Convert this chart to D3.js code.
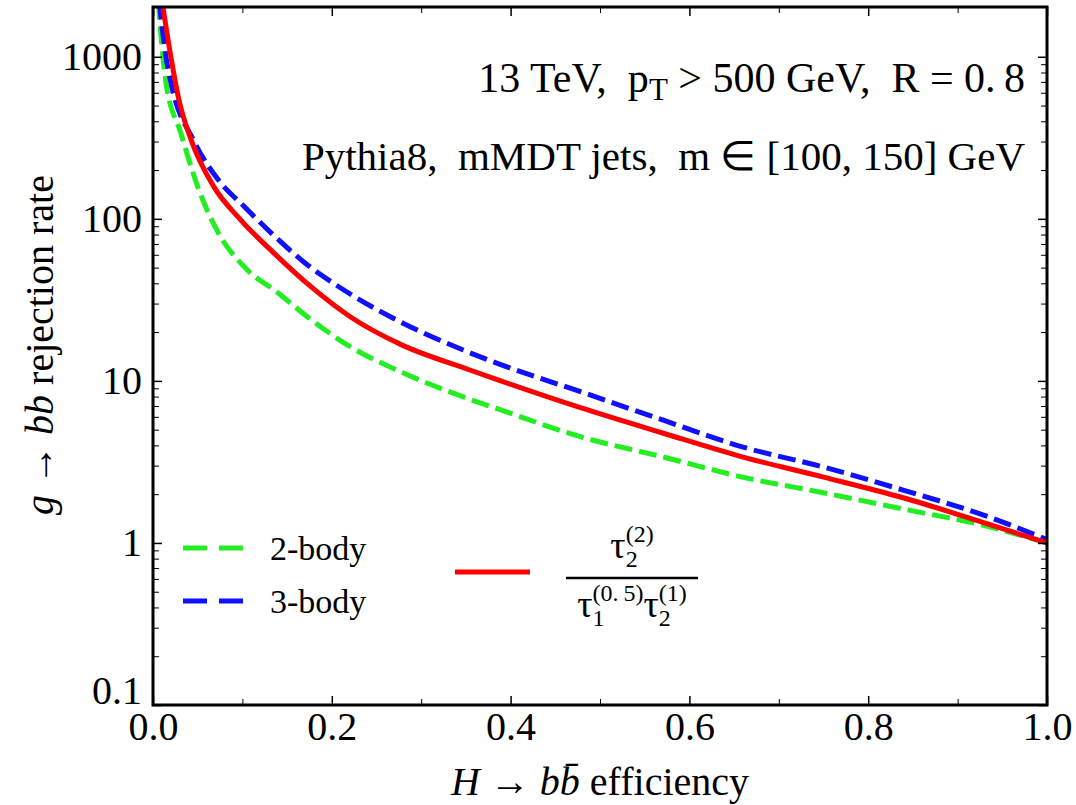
<!DOCTYPE html>
<html>
<head>
<meta charset="utf-8">
<script src="https://cdn.jsdelivr.net/npm/d3@7"></script>
<style>
  svg text { font-family: "Liberation Serif", "Times New Roman", serif !important; }
</style>
</head>
<body style="margin:0;background:#fff">
<svg id="chart" width="1076" height="805"></svg>
<script>
// values (efficiency, rejection)
const effTwoBody = [0.006, 0.011, 0.0145, 0.031, 0.050, 0.073, 0.102, 0.140, 0.177, 0.221, 0.280, 0.347, 0.389, 0.479, 0.570, 0.659, 0.750, 0.839, 0.930, 1.0];
const rejTwoBody = [2200, 1000, 692, 340, 158, 82, 50.6, 34.9, 23.8, 16.2, 11.2, 7.96, 6.62, 4.51, 3.40, 2.55, 2.04, 1.62, 1.28, 1.0];

const effThreeBody = [0.007, 0.0145, 0.020, 0.045, 0.073, 0.102, 0.132, 0.169, 0.213, 0.266, 0.347, 0.389, 0.479, 0.570, 0.659, 0.750, 0.839, 0.930, 1.0];
const rejThreeBody = [2200, 1000, 692, 308, 174, 119, 82, 54, 36.5, 24.8, 15.5, 12.6, 8.55, 5.74, 3.92, 2.94, 2.12, 1.48, 1.05];

const effRatio = [0.011, 0.020, 0.029, 0.0425, 0.068, 0.098, 0.135, 0.177, 0.221, 0.277, 0.352, 0.389, 0.479, 0.570, 0.659, 0.750, 0.839, 0.930, 1.0];
const rejRatio = [2050, 1000, 543, 308, 158, 98.6, 61.7, 38, 24.8, 16.8, 11.8, 10.0, 6.81, 4.77, 3.40, 2.55, 1.90, 1.33, 1.0];

const xTicks = [0, 0.2, 0.4, 0.6, 0.8, 1.0];
const xMinorTicks = [0.1, 0.3, 0.5, 0.7, 0.9];
const yTicks = [0.1, 1, 10, 100, 1000];

const FONT = '"Liberation Serif", "Times New Roman", serif';
const svg = d3.select("#chart").attr("font-family", FONT);
const plotLeft = 153, plotRight = 1047, plotTop = 7, plotBottom = 705;

const x = d3.scaleLinear().domain([0, 1]).range([plotLeft, plotRight]);
const y = d3.scaleLog().domain([0.1, 2000]).range([plotBottom, plotTop + 1]);

// minor log ticks 2..9 per decade
const yMinorTicks = [];
yTicks.forEach(d => { for (let k = 2; k <= 9; k++) { if (d * k < 2000) yMinorTicks.push(d * k); } });

svg.append("clipPath").attr("id", "plotclip")
  .append("rect").attr("x", plotLeft).attr("y", plotTop)
  .attr("width", plotRight - plotLeft).attr("height", plotBottom - plotTop);

// curves
const line = d3.line()
  .x(d => x(d[0]))
  .y(d => y(d[1]))
  .curve(d3.curveMonotoneX);

const series = [
  { eff: effTwoBody, rej: rejTwoBody, color: "#22ee22", dash: "18,7" },
  { eff: effThreeBody, rej: rejThreeBody, color: "#1010ff", dash: "18,7" },
  { eff: effRatio, rej: rejRatio, color: "#ff0000", dash: null }
];

const plot = svg.append("g").attr("clip-path", "url(#plotclip)");
series.forEach(s => {
  plot.append("path")
    .datum(s.eff.map((e, i) => [e, s.rej[i]]))
    .attr("fill", "none")
    .attr("stroke", s.color)
    .attr("stroke-width", 5)
    .attr("stroke-dasharray", s.dash)
    .attr("d", line);
});

// axes, ticks pointing inward
function styleAxis(g, width) {
  g.attr("font-family", FONT).attr("font-size", 40);
  g.select(".domain").remove();
  g.selectAll(".tick line").attr("stroke", "#000").attr("stroke-width", width);
}

svg.append("g").attr("transform", `translate(0,${plotBottom})`)
  .call(d3.axisBottom(x).tickValues(xTicks).tickSize(-9).tickPadding(7).tickFormat(d3.format(".1f")))
  .call(g => styleAxis(g, 1.5));
svg.append("g").attr("transform", `translate(0,${plotBottom})`)
  .call(d3.axisBottom(x).tickValues(xMinorTicks).tickSize(-6).tickFormat(""))
  .call(g => styleAxis(g, 1));
svg.append("g").attr("transform", `translate(0,${plotTop})`)
  .call(d3.axisTop(x).tickValues(xTicks).tickSize(-9).tickFormat(""))
  .call(g => styleAxis(g, 1.5));
svg.append("g").attr("transform", `translate(0,${plotTop})`)
  .call(d3.axisTop(x).tickValues(xMinorTicks).tickSize(-6).tickFormat(""))
  .call(g => styleAxis(g, 1));

svg.append("g").attr("transform", `translate(${plotLeft},0)`)
  .call(d3.axisLeft(y).tickValues(yTicks).tickSize(-9).tickPadding(11)
    .tickFormat(d => d < 1 ? "0.1" : d3.format("d")(d)))
  .call(g => styleAxis(g, 1.5))
  .call(g => g.selectAll(".tick text").filter(d => d < 1).attr("dy", "-0.05em"));
svg.append("g").attr("transform", `translate(${plotLeft},0)`)
  .call(d3.axisLeft(y).tickValues(yMinorTicks).tickSize(-6).tickFormat(""))
  .call(g => styleAxis(g, 1));
svg.append("g").attr("transform", `translate(${plotRight},0)`)
  .call(d3.axisRight(y).tickValues(yTicks).tickSize(-9).tickFormat(""))
  .call(g => styleAxis(g, 1.5));
svg.append("g").attr("transform", `translate(${plotRight},0)`)
  .call(d3.axisRight(y).tickValues(yMinorTicks).tickSize(-6).tickFormat(""))
  .call(g => styleAxis(g, 1));

// frame
svg.append("rect")
  .attr("x", plotLeft).attr("y", plotTop)
  .attr("width", plotRight - plotLeft).attr("height", plotBottom - plotTop)
  .attr("fill", "none").attr("stroke", "#000").attr("stroke-width", 3);

// axis titles
const xt = svg.append("text")
  .attr("x", 600).attr("y", 795)
  .attr("text-anchor", "middle")
  .attr("font-size", 40);
xt.append("tspan").attr("font-style", "italic").text("H");
xt.append("tspan").text(" \u2192 ");
xt.append("tspan").attr("font-style", "italic").text("bb\u0304");
xt.append("tspan").text(" efficiency");

const yt = svg.append("text")
  .attr("transform", "translate(53,345) rotate(-90)")
  .attr("text-anchor", "middle")
  .attr("font-size", 40);
yt.append("tspan").attr("font-style", "italic").text("g");
yt.append("tspan").text(" \u2192 ");
yt.append("tspan").attr("font-style", "italic").text("bb");
yt.append("tspan").text(" rejection rate");

// annotation text
const t1 = svg.append("text")
  .attr("x", 1025).attr("y", 92)
  .attr("text-anchor", "end")
  .attr("font-size", 42)
  .style("white-space", "pre");
t1.append("tspan").text("13 TeV,  p");
t1.append("tspan").attr("dy", 8).attr("font-size", 31).text("T");
t1.append("tspan").attr("dy", -8).text(" > 500 GeV,  R = 0.\u20098");

svg.append("text")
  .attr("x", 1025).attr("y", 170)
  .attr("text-anchor", "end")
  .attr("font-size", 41)
  .style("white-space", "pre")
  .text("Pythia8,  mMDT jets,  m \u2208 [100, 150] GeV");

// legend
const legend = svg.append("g");
[
  { s: series[0], ly: 548, label: "2-body" },
  { s: series[1], ly: 601, label: "3-body" }
].forEach(d => {
  legend.append("line")
    .attr("x1", 183).attr("x2", 243).attr("y1", d.ly).attr("y2", d.ly)
    .attr("stroke", d.s.color).attr("stroke-width", 5)
    .attr("stroke-dasharray", "24,12");
  legend.append("text")
    .attr("x", 270).attr("y", d.ly + 12)
    .attr("font-size", 34)
    .text(d.label);
});
legend.append("line")
  .attr("x1", 455).attr("x2", 530).attr("y1", 572).attr("y2", 572)
  .attr("stroke", series[2].color).attr("stroke-width", 5);

// fraction tau2^(2) / (tau1^(0.5) tau2^(1)), sub and sup stacked with dx
function tau(t, sub, sup, first) {
  t.append("tspan").attr("font-size", 38).attr("dy", first ? 0 : 16).text("\u03c4");
  t.append("tspan").attr("font-size", 24).attr("dy", 9).text(sub);
  t.append("tspan").attr("font-size", 24).attr("dx", -12).attr("dy", -25).text(sup);
}
const fx = 632;
const num = svg.append("text").attr("x", fx).attr("y", 558).attr("text-anchor", "middle").style("white-space", "pre");
tau(num, "2", "(2)", true);
const den = svg.append("text").attr("x", fx).attr("y", 617).attr("text-anchor", "middle").style("white-space", "pre");
tau(den, "1", "(0.\u20095)", true);
tau(den, "2", "(1)", false);
svg.append("line")
  .attr("x1", fx - 66).attr("x2", fx + 66)
  .attr("y1", 578).attr("y2", 578)
  .attr("stroke", "#000").attr("stroke-width", 2.5);

// every text gets the serif family directly
svg.selectAll("text").attr("font-family", FONT).attr("fill", "#000");
</script>
</body>
</html>
